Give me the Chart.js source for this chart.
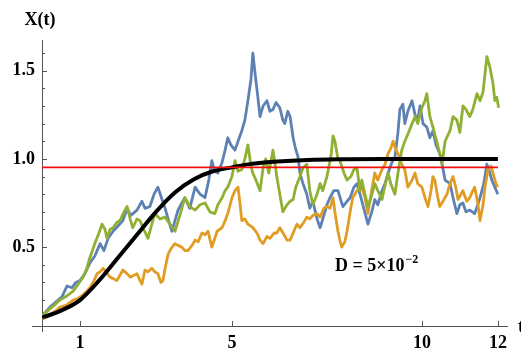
<!DOCTYPE html>
<html>
<head>
<meta charset="utf-8">
<script src="https://cdn.jsdelivr.net/npm/chart.js@4/dist/chart.umd.min.js"></script>
<style>
  body { margin: 0; background: #fff; }
  #wrap { width: 521px; height: 350px; }
</style>
</head>
<body>
<div id="wrap"><canvas id="chart" width="521" height="350"></canvas></div>
<script>
// tick labels
const xTicks = [1, 5, 10, 12];
const yTicks = [0.5, 1.0, 1.5];
const yMinorTicks = [0.1, 0.2, 0.3, 0.4, 0.6, 0.7, 0.8, 0.9, 1.1, 1.2, 1.3, 1.4, 1.6];

// blue path
const blueT = [0,0.21,0.37,0.53,0.66,0.79,0.89,1.00,1.13,1.26,1.39,1.53,1.63,1.74,1.87,2.00,2.13,2.24,2.34,2.50,2.63,2.71,2.84,2.95,3.05,3.16,3.24,3.32,3.42,3.50,3.58,3.68,3.76,3.89,4.03,4.16,4.29,4.39,4.47,4.55,4.63,4.74,4.82,4.89,4.97,5.08,5.16,5.26,5.34,5.42,5.50,5.55,5.61,5.66,5.74,5.82,5.92,6.00,6.08,6.16,6.26,6.34,6.39,6.47,6.53,6.61,6.66,6.74,6.79,6.87,6.97,7.05,7.13,7.24,7.32,7.42,7.50,7.58,7.68,7.79,7.92,8.03,8.11,8.21,8.29,8.37,8.47,8.58,8.68,8.76,8.84,8.95,9.03,9.11,9.21,9.29,9.37,9.42,9.50,9.55,9.63,9.74,9.82,9.89,9.95,10.03,10.13,10.21,10.29,10.37,10.47,10.55,10.61,10.74,10.82,10.92,11.00,11.08,11.16,11.26,11.39,11.47,11.53,11.63,11.71,11.79,11.84,11.92,12.00];
const blueX = [0.11,0.16,0.19,0.22,0.28,0.27,0.30,0.31,0.35,0.41,0.45,0.52,0.48,0.55,0.59,0.62,0.65,0.72,0.68,0.71,0.76,0.72,0.73,0.80,0.84,0.77,0.72,0.66,0.59,0.65,0.71,0.75,0.78,0.72,0.84,0.80,0.78,0.88,0.99,0.93,0.92,0.98,1.05,1.12,1.08,1.05,1.10,1.16,1.22,1.33,1.45,1.60,1.48,1.39,1.24,1.30,1.33,1.27,1.28,1.32,1.29,1.22,1.20,1.27,1.24,1.12,1.07,1.01,0.92,0.86,0.80,0.72,0.76,0.66,0.61,0.68,0.74,0.78,0.82,0.82,0.73,0.76,0.78,0.84,0.86,0.80,0.72,0.63,0.70,0.77,0.74,0.82,0.86,0.92,0.98,1.01,1.15,1.28,1.31,1.20,1.27,1.33,1.25,1.22,1.30,1.20,1.18,1.12,1.16,1.08,1.03,0.95,0.88,0.86,0.78,0.69,0.74,0.75,0.70,0.71,0.69,0.74,0.78,0.86,0.97,0.92,0.88,0.84,0.80];

// green path
const greenT = [0,0.21,0.37,0.47,0.63,0.82,0.95,1.08,1.18,1.26,1.39,1.50,1.58,1.66,1.71,1.79,1.87,1.97,2.05,2.16,2.24,2.32,2.39,2.50,2.58,2.68,2.79,2.89,2.97,3.11,3.24,3.37,3.50,3.63,3.76,3.89,4.03,4.16,4.29,4.42,4.55,4.63,4.74,4.82,4.89,5.00,5.08,5.16,5.26,5.34,5.42,5.50,5.55,5.63,5.74,5.82,5.89,5.97,6.08,6.13,6.18,6.26,6.34,6.45,6.53,6.61,6.68,6.79,6.87,6.97,7.05,7.13,7.24,7.32,7.39,7.50,7.61,7.66,7.71,7.79,7.84,7.95,8.03,8.13,8.21,8.29,8.37,8.42,8.50,8.58,8.66,8.76,8.84,8.95,9.03,9.11,9.18,9.29,9.37,9.47,9.55,9.63,9.74,9.82,9.89,10.00,10.08,10.13,10.21,10.29,10.39,10.47,10.53,10.61,10.74,10.82,10.92,11.00,11.08,11.16,11.26,11.34,11.45,11.53,11.61,11.71,11.79,11.87,11.92,11.97,12.02];
const greenX = [0.11,0.15,0.18,0.20,0.22,0.25,0.29,0.33,0.38,0.44,0.52,0.58,0.63,0.60,0.55,0.60,0.61,0.64,0.65,0.70,0.73,0.66,0.61,0.66,0.65,0.60,0.55,0.63,0.69,0.66,0.67,0.63,0.59,0.68,0.78,0.73,0.71,0.74,0.75,0.70,0.69,0.74,0.78,0.82,0.84,0.90,0.99,0.93,0.94,1.00,1.08,0.96,0.92,0.88,0.82,0.95,1.00,0.92,1.05,0.98,0.90,0.80,0.70,0.74,0.76,0.77,0.84,0.90,0.95,0.97,0.82,0.74,0.80,0.86,0.82,0.90,1.02,1.13,1.10,1.00,0.99,0.92,0.88,0.90,0.94,0.95,0.82,0.88,0.80,0.73,0.78,0.86,0.82,0.77,0.85,0.92,0.86,0.80,0.92,1.05,1.10,1.14,1.20,1.24,1.20,1.29,1.33,1.37,1.24,1.18,1.10,1.03,0.97,1.10,1.16,1.24,1.22,1.15,1.30,1.28,1.24,1.28,1.37,1.33,1.38,1.58,1.52,1.43,1.33,1.35,1.29];

// orange path
const orangeT = [0,0.21,0.37,0.47,0.63,0.82,0.95,1.08,1.18,1.26,1.37,1.45,1.53,1.61,1.68,1.79,1.89,1.97,2.05,2.13,2.24,2.32,2.42,2.50,2.58,2.63,2.71,2.79,2.89,2.97,3.05,3.13,3.18,3.26,3.32,3.39,3.50,3.58,3.68,3.76,3.84,3.95,4.03,4.11,4.21,4.29,4.37,4.47,4.55,4.61,4.74,4.82,4.89,5.00,5.08,5.16,5.21,5.26,5.34,5.42,5.55,5.66,5.74,5.82,5.92,6.00,6.11,6.18,6.26,6.37,6.45,6.53,6.63,6.71,6.79,6.89,6.97,7.05,7.13,7.24,7.32,7.42,7.50,7.58,7.66,7.71,7.79,7.84,7.89,7.97,8.03,8.11,8.18,8.29,8.37,8.42,8.50,8.58,8.66,8.76,8.84,8.95,9.03,9.11,9.18,9.24,9.32,9.37,9.47,9.55,9.63,9.74,9.82,9.89,10.00,10.08,10.16,10.24,10.29,10.34,10.42,10.47,10.58,10.66,10.74,10.82,10.89,10.95,11.03,11.08,11.18,11.26,11.34,11.39,11.47,11.53,11.61,11.66,11.74,11.82,11.87,11.95,12.00];
const orangeX = [0.09,0.12,0.14,0.16,0.17,0.20,0.21,0.23,0.25,0.27,0.31,0.35,0.36,0.38,0.36,0.33,0.32,0.31,0.34,0.37,0.35,0.33,0.34,0.35,0.31,0.29,0.37,0.36,0.38,0.36,0.35,0.30,0.31,0.40,0.46,0.49,0.52,0.51,0.50,0.48,0.48,0.51,0.54,0.53,0.58,0.57,0.59,0.50,0.55,0.59,0.61,0.65,0.69,0.78,0.82,0.84,0.75,0.65,0.66,0.63,0.61,0.58,0.54,0.52,0.56,0.55,0.58,0.58,0.61,0.57,0.54,0.54,0.59,0.63,0.61,0.64,0.67,0.66,0.68,0.69,0.67,0.72,0.73,0.72,0.78,0.70,0.59,0.54,0.50,0.53,0.59,0.70,0.78,0.82,0.84,0.84,0.78,0.69,0.80,0.92,0.88,0.94,0.97,1.03,1.06,1.10,1.05,1.03,0.97,0.94,0.84,0.88,0.92,0.86,0.84,0.78,0.73,0.82,0.90,0.88,0.78,0.73,0.77,0.80,0.86,0.90,0.84,0.77,0.80,0.82,0.76,0.78,0.82,0.84,0.75,0.65,0.74,0.84,0.94,0.96,0.92,0.86,0.84];

// deterministic mean curve and reference level
const meanT = [0,0.5,1,1.5,2,2.5,3,3.5,4,4.5,5,5.5,6,7,8,9,10,11,12];
const meanX = [0.10,0.14,0.20,0.31,0.44,0.57,0.70,0.81,0.885,0.93,0.952,0.972,0.983,0.994,0.998,1.0,1.0,1.0,1.0];
const levelT = [0, 12];
const levelX = [0.952, 0.952];

const pts = (ts, xs) => ts.map((t, i) => ({ x: t, y: xs[i] }));
const tickFont = { family: 'Liberation Serif', size: 18, weight: 'bold' };

// ticks inside the axes, axis stubs and labels
const decorations = {
  id: 'decorations',
  afterDraw(chart) {
    const { ctx, chartArea: a, scales: { x, y } } = chart;
    ctx.save();
    ctx.strokeStyle = '#555';
    ctx.lineWidth = 1;
    ctx.beginPath();
    // stubs where the axes cross
    ctx.moveTo(a.left - 10, a.bottom + 0.5); ctx.lineTo(a.left, a.bottom + 0.5);
    ctx.moveTo(a.left + 0.5, a.bottom); ctx.lineTo(a.left + 0.5, a.bottom + 6);
    xTicks.forEach(v => {
      const px = Math.round(x.getPixelForValue(v)) + 0.5;
      ctx.moveTo(px, a.bottom); ctx.lineTo(px, a.bottom - 5);
    });
    yTicks.forEach(v => {
      const py = Math.round(y.getPixelForValue(v)) + 0.5;
      ctx.moveTo(a.left, py); ctx.lineTo(a.left + 5, py);
    });
    yMinorTicks.forEach(v => {
      const py = Math.round(y.getPixelForValue(v)) + 0.5;
      ctx.moveTo(a.left, py); ctx.lineTo(a.left + 3, py);
    });
    ctx.stroke();

    ctx.fillStyle = '#000';
    ctx.font = 'bold 18px "Liberation Serif"';
    ctx.textBaseline = 'alphabetic';
    ctx.textAlign = 'center';
    ctx.fillText('X(t)', a.left - 2, 25);
    ctx.textAlign = 'left';
    ctx.fillText('t', 518, a.bottom + 6);

    // annotation
    const ax = x.getPixelForValue(7.71);
    const ay = y.getPixelForValue(0.367);
    const main = 'D = 5×10';
    ctx.fillText(main, ax, ay);
    const w = ctx.measureText(main).width;
    ctx.font = 'bold 12px "Liberation Serif"';
    ctx.fillText('−2', ax + w + 1, ay - 8);
    ctx.restore();
  }
};

new Chart(document.getElementById('chart'), {
  type: 'line',
  data: {
    datasets: [
      { data: pts(levelT, levelX), borderColor: '#f01010', borderWidth: 1.6 },
      { data: pts(meanT, meanX), borderColor: '#000', borderWidth: 4, cubicInterpolationMode: 'monotone' },
      { data: pts(greenT, greenX), borderColor: '#8fb032', borderWidth: 2.8 },
      { data: pts(orangeT, orangeX), borderColor: '#e19c24', borderWidth: 2.8 },
      { data: pts(blueT, blueX), borderColor: '#5e81b5', borderWidth: 2.8 }
    ]
  },
  options: {
    responsive: false,
    animation: false,
    layout: { padding: { top: 40, right: 14, left: 0, bottom: 0 } },
    elements: { point: { radius: 0 }, line: { tension: 0, borderJoinStyle: 'round' } },
    plugins: { legend: { display: false }, tooltip: { enabled: false } },
    scales: {
      x: {
        type: 'linear', min: 0, max: 12.24,
        grid: { display: false, drawTicks: false },
        border: { color: '#555', width: 1 },
        afterBuildTicks: s => { s.ticks = xTicks.map(v => ({ value: v })); },
        afterFit: s => { s.height = 24; },
        ticks: { padding: 7, color: '#000', font: tickFont, maxRotation: 0, autoSkip: false, callback: v => String(v) }
      },
      y: {
        type: 'linear', min: 0.053, max: 1.674,
        grid: { display: false, drawTicks: false },
        border: { color: '#555', width: 1 },
        afterBuildTicks: s => { s.ticks = yTicks.map(v => ({ value: v })); },
        afterFit: s => { s.width = 42; },
        ticks: { padding: 7, color: '#000', font: tickFont, callback: v => v.toFixed(1) }
      }
    }
  },
  plugins: [decorations]
});
</script>
</body>
</html>
